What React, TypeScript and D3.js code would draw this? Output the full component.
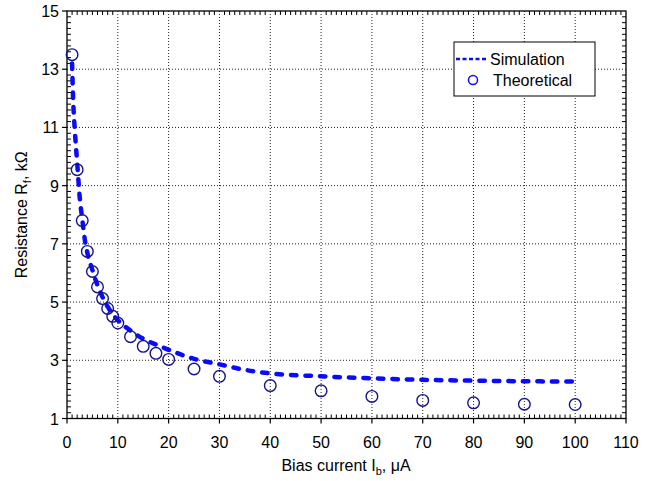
import React from "react";
import * as d3 from "d3";

// Theoretical points
const theoI = [1, 2, 3, 4, 5, 6, 7, 8, 9, 10, 12.5, 15, 17.5, 20, 25, 30, 40, 50, 60, 70, 80, 90, 100];
const theoR = [13.5, 9.55, 7.8, 6.74, 6.05, 5.52, 5.12, 4.78, 4.51, 4.28, 3.81, 3.48, 3.24, 3.03, 2.7, 2.45, 2.13, 1.95, 1.76, 1.62, 1.54, 1.49, 1.48];

// Simulation curve
const simI = [1, 1.2, 1.5, 2, 2.5, 3, 3.5, 4, 5, 6, 7, 8, 9, 10, 12.5, 15, 17.5, 20, 25, 30, 35, 40, 50, 60, 70, 80, 90, 100];
const simR = [13.2, 12.0, 11.0, 9.8, 8.6, 7.85, 7.15, 6.7, 6.1, 5.58, 5.17, 4.84, 4.58, 4.38, 4.02, 3.74, 3.54, 3.36, 3.05, 2.86, 2.67, 2.55, 2.45, 2.38, 2.33, 2.3, 2.28, 2.27];

const xTicks = [0, 10, 20, 30, 40, 50, 60, 70, 80, 90, 100, 110];
const yTicks = [1, 3, 5, 7, 9, 11, 13, 15];

const FONT = "'Liberation Sans', Arial, Helvetica, sans-serif";

export default function App() {
  const W = 655, H = 481;
  const L = 67, R = 626, T = 11, B = 418.5;
  const x = d3.scaleLinear().domain([0, 110]).range([L, R]);
  const y = d3.scaleLinear().domain([1, 15]).range([B, T]);

  const xMinor = d3.range(0, 110.001, 1).filter((v) => Math.abs(v % 10) > 1e-6);
  const yMinor = d3.range(1, 15.001, 0.2).filter((v) => {
    const r = Math.abs(((v - 1) / 2) - Math.round((v - 1) / 2));
    return r > 1e-6;
  });

  const simData = simI.map((v, i) => [v, simR[i]] as [number, number]);
  const line = d3
    .line<[number, number]>()
    .x((d) => x(d[0]))
    .y((d) => y(d[1]))
    .curve(d3.curveMonotoneX);

  const blue = "#0a0aff";
  const navy = "#14148c";

  return (
    <svg
      width={W}
      height={H}
      style={{ position: "absolute", left: 0, top: 0, background: "#fff" }}
      fontFamily={FONT}
    >
      <rect x={0} y={0} width={W} height={H} fill="#fff" />
      {/* grid */}
      {xTicks.slice(1, -1).map((v) => (
        <line key={"gx" + v} x1={x(v)} x2={x(v)} y1={T} y2={B} stroke="#222" strokeWidth={1} strokeDasharray="1,2" />
      ))}
      {yTicks.slice(1, -1).map((v) => (
        <line key={"gy" + v} x1={L} x2={R} y1={y(v)} y2={y(v)} stroke="#222" strokeWidth={1} strokeDasharray="1,2" />
      ))}
      {/* minor ticks */}
      {xMinor.map((v) => (
        <g key={"mx" + v}>
          <line x1={x(v)} x2={x(v)} y1={B} y2={B - 4} stroke="#000" strokeWidth={1} />
          <line x1={x(v)} x2={x(v)} y1={T} y2={T + 4} stroke="#000" strokeWidth={1} />
        </g>
      ))}
      {yMinor.map((v) => (
        <g key={"my" + v.toFixed(1)}>
          <line x1={L} x2={L + 4} y1={y(v)} y2={y(v)} stroke="#000" strokeWidth={1} />
          <line x1={R} x2={R - 4} y1={y(v)} y2={y(v)} stroke="#000" strokeWidth={1} />
        </g>
      ))}
      {/* major ticks */}
      {xTicks.map((v) => (
        <line key={"tx" + v} x1={x(v)} x2={x(v)} y1={B} y2={B + 5} stroke="#000" strokeWidth={1.2} />
      ))}
      {yTicks.map((v) => (
        <line key={"ty" + v} x1={L - 5} x2={L} y1={y(v)} y2={y(v)} stroke="#000" strokeWidth={1.2} />
      ))}
      {/* frame */}
      <rect x={L} y={T} width={R - L} height={B - T} fill="none" stroke="#000" strokeWidth={1.3} />
      {/* tick labels */}
      {xTicks.map((v) => (
        <text key={"lx" + v} x={x(v)} y={B + 29} textAnchor="middle" fontSize={16} fill="#000">
          {v}
        </text>
      ))}
      {yTicks.map((v) => (
        <text key={"ly" + v} x={L - 8} y={y(v) + 6} textAnchor="end" fontSize={16} fill="#000">
          {v}
        </text>
      ))}
      {/* axis titles */}
      <text x={346} y={471} textAnchor="middle" fontSize={16} fill="#000">
        Bias current I
        <tspan fontSize={11} dy={4}>b</tspan>
        <tspan dy={-4}>, μA</tspan>
      </text>
      <text transform={`translate(27,${(T + B) / 2}) rotate(-90)`} textAnchor="middle" fontSize={16} fill="#000">
        Resistance R
        <tspan fontSize={11} dy={4}>f</tspan>
        <tspan dy={-4}>, kΩ</tspan>
      </text>
      {/* simulation */}
      <path
        d={line(simData) || ""}
        fill="none"
        stroke={blue}
        strokeWidth={4.5}
        strokeLinecap="round"
        strokeDasharray="5.5,9"
      />
      {/* theoretical */}
      {theoI.map((v, i) => (
        <circle key={"c" + i} cx={x(v)} cy={y(theoR[i])} r={5.8} fill="none" stroke={navy} strokeWidth={1.4} />
      ))}
      {/* legend */}
      <rect x={454} y={42} width={141} height={54} fill="#fff" stroke="#000" strokeWidth={1} />
      <line x1={456} x2={488} y1={59} y2={59} stroke={blue} strokeWidth={2.5} strokeDasharray="4,2.5" />
      <text x={490} y={64.5} fontSize={16} fill="#000">Simulation</text>
      <circle cx={473} cy={80} r={4.5} fill="none" stroke={blue} strokeWidth={1.5} />
      <text x={493} y={86} fontSize={16} fill="#000">Theoretical</text>
    </svg>
  );
}
